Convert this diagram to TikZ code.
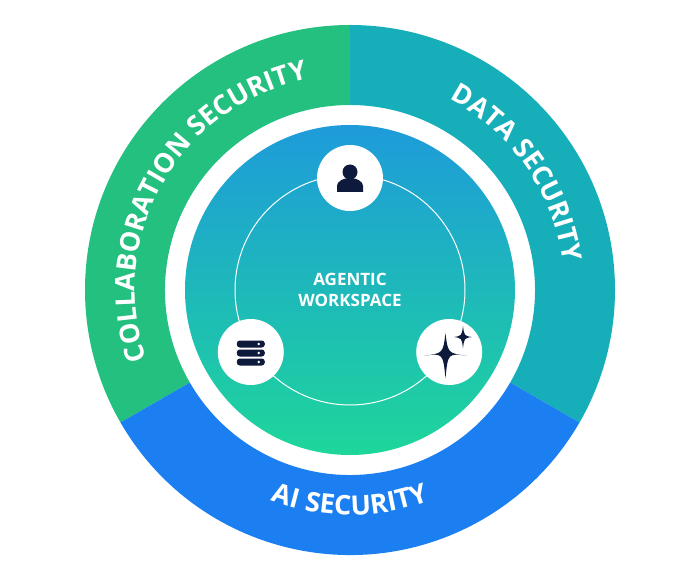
\documentclass[tikz,border=0pt]{standalone}
\usepackage{fontspec}
\setmainfont{Open Sans}
\usetikzlibrary{positioning, calc, decorations.text}
\definecolor{collabgreen}{HTML}{23C07F}
\definecolor{datateal}{HTML}{16AEB8}
\definecolor{aiblue}{HTML}{1B7FF2}
\definecolor{discblue}{HTML}{1E9BDA}
\definecolor{discgreen}{HTML}{1ED69A}
\definecolor{iconnavy}{HTML}{0E1A3C}
\begin{document}
\begin{tikzpicture}[x=1pt, y=1pt,
				iconbox/.style = {circle, fill=white, minimum size=66pt, inner sep=0pt},
				ringtext/.style = {decoration={text along path, text align=center, text color=white,
						text={|\fontsize{27}{27}\selectfont\bfseries|#1}}, decorate},
			]
			\useasboundingbox (-350,-293) rectangle (350,290);

			% outer ring
			\fill[collabgreen] (90:265) arc[start angle=90, end angle=210, radius=265] -- (210:185) arc[start angle=210, end angle=90, radius=185] -- cycle;
			\fill[datateal] (90:265) arc[start angle=90, end angle=-30, radius=265] -- (-30:185) arc[start angle=-30, end angle=90, radius=185] -- cycle;
			\fill[aiblue] (210:265) arc[start angle=210, end angle=330, radius=265] -- (330:185) arc[start angle=330, end angle=210, radius=185] -- cycle;

			\path[ringtext={COLLABORATION SECURITY}] (208:215) arc[start angle=208, end angle=92, radius=215];
			\path[ringtext={DATA SECURITY}] (72:215) arc[start angle=72, end angle=-2, radius=215];
			\path[ringtext={AI SECURITY}] (235:225) arc[start angle=235, end angle=305, radius=225];

			% inner disc
			\shade[top color=discblue, bottom color=discgreen] (0,0) circle (165);
			\draw[white, line width=1pt] (0,0) circle (115);
			\node[white, font=\fontsize{17}{21}\selectfont\bfseries, align=center] (workspace) at (0,0) {AGENTIC\\WORKSPACE};

			\node[iconbox] (user) at (90:112) {};
			\node[iconbox] (database) at (212:117) {};
			\node[iconbox] (sparkle) at (328:117) {};

			% user icon
			\fill[iconnavy] ($(user)+(0,6)$) circle (7.5);
			\fill[iconnavy] ($(user)+(-13,-14)$) -- ($(user)+(-13,-8)$) arc[start angle=180, end angle=0, x radius=13, y radius=8] -- ($(user)+(13,-14)$) -- cycle;

			% database icon
			\foreach \dy in {8,-1,-10}
				\fill[iconnavy, rounded corners=3pt] ($(database)+(-14,\dy-3.5)$) rectangle ($(database)+(14,\dy+3.5)$);
			\foreach \dy in {8,-1,-10}
				\fill[white] ($(database)+(8,\dy)$) circle (1.3);

			% sparkle icon
			\begin{scope}[shift={(sparkle)}, scale=1.25]
				\fill[iconnavy] (-3,15) .. controls (-1,-1) .. (14,-3) .. controls (-1,-1) .. (-3,-21) .. controls (-5,-1) .. (-20,-3) .. controls (-5,-1) .. cycle;
				\fill[iconnavy] (11,21) .. controls (12,13) .. (18,12) .. controls (12,11) .. (11,3) .. controls (10,11) .. (4,12) .. controls (10,13) .. cycle;
			\end{scope}

		\end{tikzpicture}
\end{document}
